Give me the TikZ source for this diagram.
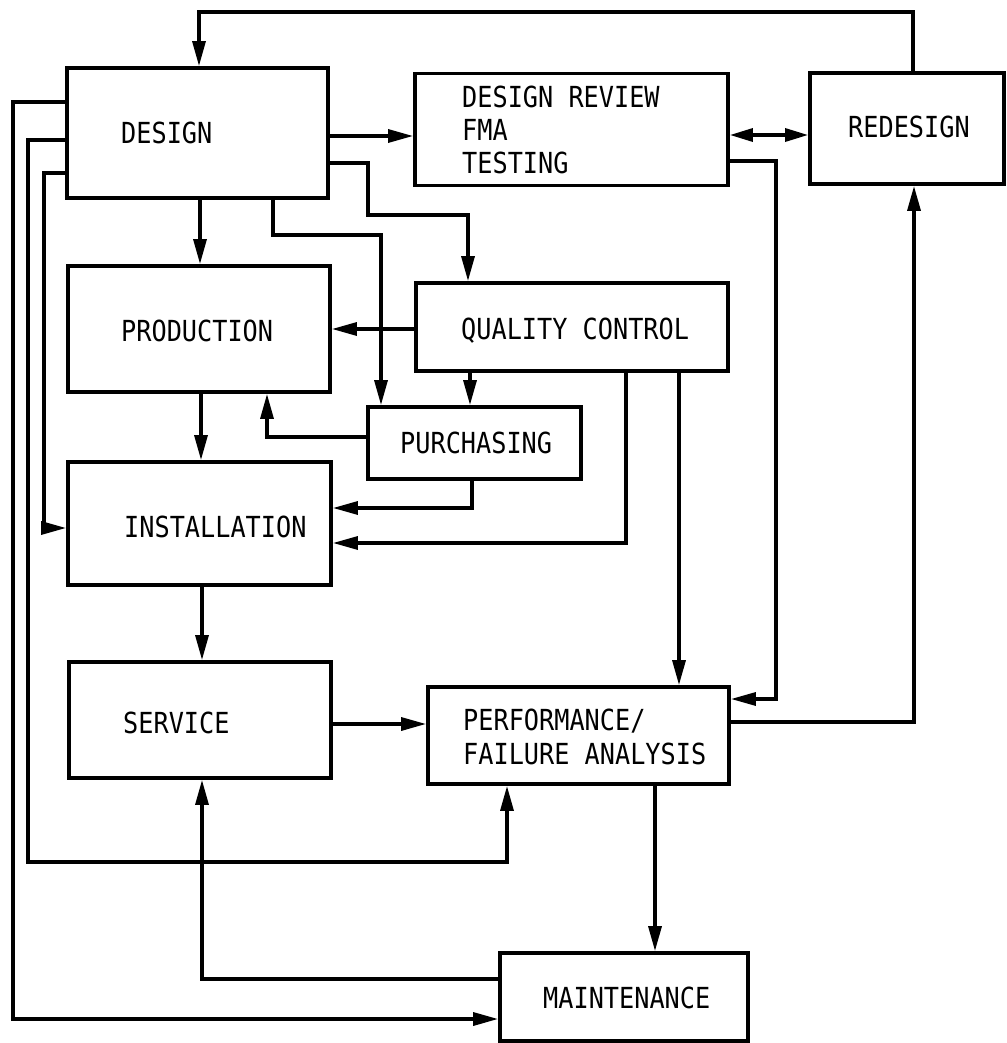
\documentclass[tikz,border=0pt]{standalone}
\usepackage{fontspec}
\newfontfamily\lblfont[FakeStretch=0.87]{DejaVu Sans Mono}
\usetikzlibrary{arrows.meta}
\begin{document}
\begin{tikzpicture}[x=1pt,y=-1pt,
  box/.style={draw=black, line width=3.8pt, inner sep=0pt, fill=none},
  lbl/.style={inner sep=0pt, anchor=base west, font=\lblfont\fontsize{29pt}{33pt}\selectfont},
  conn/.style={draw=black, line width=3.3pt, line join=miter},
  arr/.style={conn, -{Triangle[length=25pt,width=13pt]}},
  darr/.style={conn, {Triangle[length=23pt,width=13pt]}-{Triangle[length=23pt,width=13pt]}}
]
\useasboundingbox (0,0) rectangle (1006,1043);
\fill[white] (0,0) rectangle (1006,1043);

% boxes
\node[box, minimum width=261pt, minimum height=130pt] (design) at (197.5,133) {};
\node[box, minimum width=313pt, minimum height=112pt] (dr) at (571.5,129.5) {};
\node[box, minimum width=194pt, minimum height=111pt] (redesign) at (907,128.5) {};
\node[box, minimum width=262pt, minimum height=126pt] (production) at (199,329) {};
\node[box, minimum width=312pt, minimum height=88pt] (qc) at (572,327) {};
\node[box, minimum width=213pt, minimum height=72pt] (purchasing) at (474.5,443) {};
\node[box, minimum width=263pt, minimum height=123pt] (installation) at (199.5,523.5) {};
\node[box, minimum width=262pt, minimum height=116pt] (service) at (200,720) {};
\node[box, minimum width=301pt, minimum height=97pt] (pfa) at (578.5,735.5) {};
\node[box, minimum width=248pt, minimum height=88pt] (maint) at (624,997) {};

% labels
\node[lbl] (tdesign) at (121,144) {DESIGN};
\node[lbl] (tdr1) at (462,108) {DESIGN REVIEW};
\node[lbl] (tdr2) at (462,141) {FMA};
\node[lbl] (tdr3) at (462,174) {TESTING};
\node[lbl] (tredesign) at (848,138) {REDESIGN};
\node[lbl] (tproduction) at (121,341) {PRODUCTION};
\node[lbl] (tqc) at (461,339) {QUALITY CONTROL};
\node[lbl] (tpurchasing) at (400,453) {PURCHASING};
\node[lbl] (tinstallation) at (124,537) {INSTALLATION};
\node[lbl] (tservice) at (123,733) {SERVICE};
\node[lbl] (tpfa1) at (463,730) {PERFORMANCE/};
\node[lbl] (tpfa2) at (463,764) {FAILURE ANALYSIS};
\node[lbl] (tmaint) at (543,1008) {MAINTENANCE};

% connectors
\draw[arr] (redesign.north -| 913,0) -- (913,12) -| (design.north -| 199,0);
\draw[arr] (design.east |- 0,136) -- (dr.west |- 0,136);
\draw[darr] (dr.east |- 0,135) -- (redesign.west |- 0,135);
\draw[arr] (design.east |- 0,163) -- (368,163) -- (368,215) -- (468,215) -- (qc.north -| 468,0);
\draw[arr] (design.south -| 273,0) -- (273,235) -- (381,235) -- (purchasing.north -| 381,0);
\draw[arr] (design.south -| 200,0) -- (production.north -| 200,0);
\draw[arr] (qc.west |- 0,329) -- (production.east |- 0,329);
\draw[arr] (qc.south -| 470,0) -- (purchasing.north -| 470,0);
\draw[arr] (purchasing.west |- 0,437) -- (267,437) -- (production.south -| 267,0);
\draw[arr] (production.south -| 201,0) -- (installation.north -| 201,0);
\draw[arr] (purchasing.south -| 472,0) -- (472,508) -- (installation.east |- 0,508);
\draw[arr] (qc.south -| 626,0) -- (626,543) -- (installation.east |- 0,543);
\draw[arr] (qc.south -| 679,0) -- (pfa.north -| 679,0);
\draw[arr] (dr.east |- 0,161) -- (776,161) -- (776,699) -- (pfa.east |- 0,699);
\draw[arr] (pfa.east |- 0,722) -- (914,722) -- (redesign.south -| 914,0);
\draw[arr] (installation.south -| 202,0) -- (service.north -| 202,0);
\draw[arr] (service.east |- 0,724) -- (pfa.west |- 0,724);
\draw[arr] (pfa.south -| 655,0) -- (maint.north -| 655,0);
\draw[arr] (maint.west |- 0,979) -- (202,979) -- (service.south -| 202,0);
\draw[arr] (design.west |- 0,102) -- (13,102) -- (13,1019) -- (maint.west |- 0,1019);
\draw[arr] (design.west |- 0,140) -- (28,140) -- (28,862) -- (507,862) -- (pfa.south -| 507,0);
\draw[arr] (design.west |- 0,173) -- (44,173) -- (44,528) -- (installation.west |- 0,528);
\end{tikzpicture}
\end{document}
